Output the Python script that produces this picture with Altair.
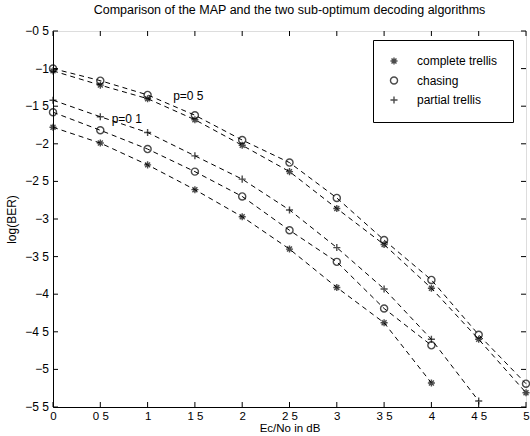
import altair as alt
import pandas as pd

# ---- data ----
x_vals = [0, 0.5, 1, 1.5, 2, 2.5, 3, 3.5, 4, 4.5, 5]
p05_complete = [-1.03, -1.22, -1.40, -1.68, -2.02, -2.37, -2.86, -3.34, -3.92, -4.60, -5.31]
p05_chasing = [-1.00, -1.16, -1.35, -1.62, -1.95, -2.25, -2.72, -3.28, -3.81, -4.54, -5.19]
p01_complete = [-1.78, -1.99, -2.28, -2.61, -2.97, -3.40, -3.91, -4.38, -5.18]
p01_chasing = [-1.58, -1.82, -2.07, -2.37, -2.70, -3.15, -3.57, -4.19, -4.68]
p01_partial = [-1.42, -1.64, -1.85, -2.16, -2.47, -2.88, -3.38, -3.93, -4.60, -5.42]

algos = ["complete trellis", "chasing", "partial trellis"]
x_ticks = [0.0, 0.5, 1.0, 1.5, 2.0, 2.5, 3.0, 3.5, 4.0, 4.5, 5.0]
y_ticks = [-5.5, -5.0, -4.5, -4.0, -3.5, -3.0, -2.5, -2.0, -1.5, -1.0, -0.5]

ann_text = ["p=0 5", "p=0 1"]
ann_x = [1.27, 0.62]
ann_y = [-1.37, -1.67]

series = [
    ("p05", algos[0], p05_complete),
    ("p05", algos[1], p05_chasing),
    ("p01", algos[0], p01_complete),
    ("p01", algos[1], p01_chasing),
    ("p01", algos[2], p01_partial),
]
rows = []
for p, a, ys in series:
    for xv, yv in zip(x_vals, ys):
        rows.append({"p": p, "algo": a, "series": p + a, "x": xv, "y": yv})
df = pd.DataFrame(rows)

FONT = "Liberation Sans"
FS = 12
W, H = 473, 376

xs = alt.Scale(domain=[0, 5], nice=False, zero=False)
ys_ = alt.Scale(domain=[-5.5, -0.5], nice=False, zero=False)
lab = "replace(format(datum.value, ''), '.', ' ')"

X = alt.X("x:Q", scale=xs, title="Ec/No in dB",
          axis=alt.Axis(values=x_ticks, labelExpr=lab, tickSize=0, grid=False,
                        labelOverlap=False, labelFlush=False,
                        labelPadding=3, titlePadding=1, domainColor="black",
                        titleFontWeight="normal", titleFont=FONT, titleFontSize=11.5,
                        labelFont=FONT, labelFontSize=11.5, labelColor="black",
                        titleColor="black"))
Y = alt.Y("y:Q", scale=ys_, title="log(BER)",
          axis=alt.Axis(values=y_ticks, labels=False, tickSize=0, grid=False,
                        titlePadding=34, domainColor="black",
                        titleFontWeight="normal", titleFont=FONT, titleFontSize=FS,
                        titleColor="black"))

asterisk = "M-1,0L1,0M0,-1L0,1M-0.7,-0.7L0.7,0.7M-0.7,0.7L0.7,-0.7"
plus = "M-1,0L1,0M0,-1L0,1"

base = alt.Chart(df)
lines = base.mark_line(color="black", strokeDash=[5, 4], strokeWidth=1).encode(
    x=X, y=Y, detail="series:N")
points = base.mark_point(filled=False, color="black", size=50, strokeWidth=1.4).encode(
    x=X, y=Y,
    shape=alt.Shape("algo:N", title=None,
                    scale=alt.Scale(domain=algos, range=[asterisk, "circle", plus]),
                    legend=alt.Legend(orient="none", legendX=320, legendY=9,
                                      strokeColor="black", fillColor="white",
                                      padding=15, labelOffset=17, rowPadding=5.5,
                                      labelFontSize=FS, labelFont=FONT, labelColor="black",
                                      symbolSize=50, symbolStrokeWidth=1.4,
                                      symbolStrokeColor="black")))

ann = alt.Chart(pd.DataFrame({"t": ann_text, "x": ann_x, "y": ann_y})).mark_text(
    align="left", baseline="middle", fontSize=FS, font=FONT, color="black").encode(
    x="x:Q", y="y:Q", text="t:N")

xt = alt.Chart(pd.DataFrame({"x": x_ticks}))
yt = alt.Chart(pd.DataFrame({"y": y_ticks}))
tick_bottom = xt.mark_rule(color="black").encode(x="x:Q", y=alt.value(H), y2=alt.value(H - 5))
tick_top = xt.mark_rule(color="black").encode(x="x:Q", y=alt.value(0), y2=alt.value(5))
tick_left = yt.mark_rule(color="black").encode(y="y:Q", x=alt.value(0), x2=alt.value(5))
tick_right = yt.mark_rule(color="black").encode(y="y:Q", x=alt.value(W), x2=alt.value(W - 5))
y_labels = yt.transform_calculate(
    lbl="replace(format(datum.y, ''), '.', ' ')"
).mark_text(align="right", baseline="middle", dx=-4, fontSize=FS, font=FONT,
            color="black").encode(y="y:Q", x=alt.value(0), text="lbl:N")

chart = alt.layer(lines, points, ann, tick_bottom, tick_top, tick_left, tick_right,
                  y_labels).properties(
    width=W, height=H,
    title=alt.TitleParams("Comparison of the MAP and the two sub-optimum decoding algorithms",
                          anchor="middle", fontSize=12.5, fontWeight="normal", font=FONT,
                          offset=9, color="black"),
    autosize=alt.AutoSizeParams(type="none"),
    padding={"left": 53, "top": 31, "right": 4, "bottom": 29},
).configure_view(stroke="black", strokeWidth=1).configure(background="white")

chart.save("out.html", embed_options={"renderer": "svg", "actions": False})
